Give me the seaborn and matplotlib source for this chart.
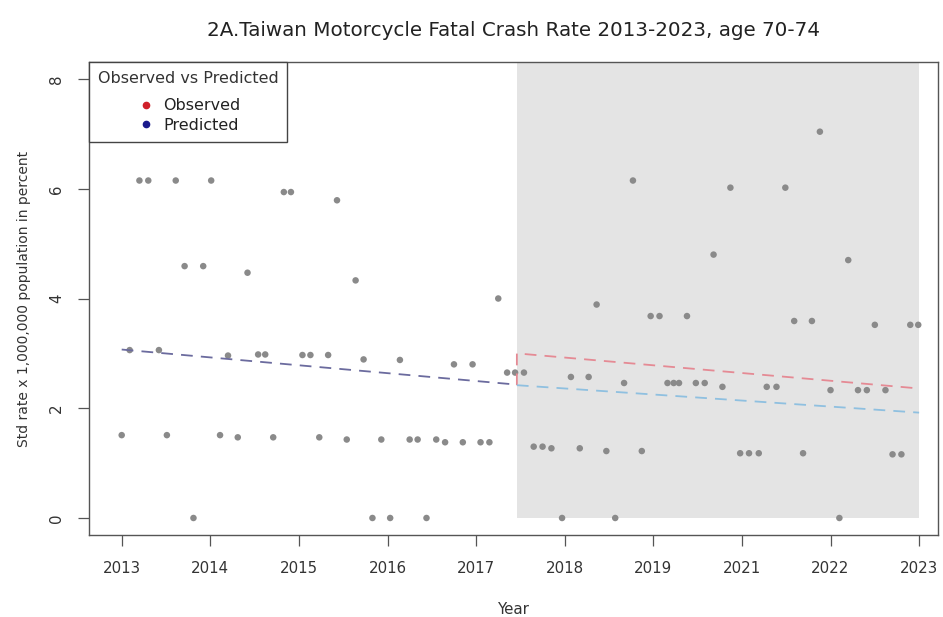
import matplotlib
matplotlib.use("Agg")
import matplotlib.pyplot as plt
from matplotlib.lines import Line2D
from matplotlib.patches import Rectangle
import pandas as pd
import seaborn as sns

# Axis ticks (the year labels run 2013-2019, then 2021-2023)
tick_pos = [2013, 2014, 2015, 2016, 2017, 2018, 2019, 2020, 2021, 2022]
tick_labels = ["2013", "2014", "2015", "2016", "2017", "2018", "2019",
               "2021", "2022", "2023"]
y_ticks = [0, 2, 4, 6, 8]

# Observed standardized rates (position on the time axis, rate)
rate_x = [2013.20, 2013.30, 2013.61, 2014.01, 2014.83, 2014.91, 2015.43,
          2013.71, 2013.92, 2014.42, 2015.64, 2017.25, 2018.77, 2018.36,
          2018.97, 2019.07, 2019.38, 2019.87, 2020.49, 2020.88, 2019.68,
          2021.20, 2020.59, 2020.79, 2021.50, 2021.90, 2021.99,
          2013.09, 2013.42, 2014.20, 2014.54, 2014.62, 2015.04, 2015.13,
          2015.33, 2015.73, 2016.14, 2016.75, 2016.96, 2017.35, 2017.44,
          2017.54,
          2018.07, 2018.27, 2018.67, 2019.16, 2019.23, 2019.29, 2019.48,
          2019.58, 2019.78, 2020.28, 2020.39, 2021.00, 2021.31, 2021.41,
          2021.62,
          2013.00, 2013.51, 2014.11, 2014.31, 2014.71, 2015.23, 2015.54,
          2015.93, 2016.25, 2016.34, 2016.55, 2016.65, 2016.85, 2017.05,
          2017.15, 2017.65, 2017.75, 2017.85, 2018.17, 2018.47, 2018.87,
          2019.98, 2020.08, 2020.19, 2020.69, 2021.70, 2021.80,
          2013.81, 2015.83, 2016.03, 2016.44, 2017.97, 2018.57, 2021.10]
rate_y = [6.15, 6.15, 6.15, 6.15, 5.94, 5.94, 5.79,
          4.59, 4.59, 4.47, 4.33, 4.00, 6.15, 3.89,
          3.68, 3.68, 3.68, 6.02, 6.02, 7.04, 4.80,
          4.70, 3.59, 3.59, 3.52, 3.52, 3.52,
          3.06, 3.06, 2.96, 2.98, 2.98, 2.97, 2.97,
          2.97, 2.89, 2.88, 2.80, 2.80, 2.65, 2.65,
          2.65,
          2.57, 2.57, 2.46, 2.46, 2.46, 2.46, 2.46,
          2.46, 2.39, 2.39, 2.39, 2.33, 2.33, 2.33,
          2.33,
          1.51, 1.51, 1.51, 1.47, 1.47, 1.47, 1.43,
          1.43, 1.43, 1.43, 1.43, 1.38, 1.38, 1.38,
          1.38, 1.30, 1.30, 1.27, 1.27, 1.22, 1.22,
          1.18, 1.18, 1.18, 1.18, 1.16, 1.16,
          0.00, 0.00, 0.00, 0.00, 0.00, 0.00, 0.00]

# Fitted trend before the break
fit_x = [2013.0, 2017.46]
fit_y = [3.07, 2.43]
# Trend of the observed rates after the break
obs_trend_x = [2017.46, 2017.46, 2022.0]
obs_trend_y = [2.42, 3.00, 2.36]
# Predicted (counterfactual) trend after the break
pred_trend_x = [2017.46, 2022.0]
pred_trend_y = [2.42, 1.92]
# Post-period window
period_start, period_end = 2017.46, 2022.0

sns.set_theme(style="white")
plt.rcParams["font.family"] = ["DejaVu Sans"]

points = pd.DataFrame({"year": rate_x, "rate": rate_y})
fit = pd.DataFrame({"year": fit_x, "rate": fit_y})
obs_trend = pd.DataFrame({"year": obs_trend_x, "rate": obs_trend_y})
pred_trend = pd.DataFrame({"year": pred_trend_x, "rate": pred_trend_y})

fig = plt.figure(figsize=(9.43, 6.17), dpi=100)
ax = fig.add_axes([89 / 943, 1 - 535 / 617, (938 - 89) / 943, (535 - 62) / 617])

ax.set_xlim(2012.631, 2022.213)
ax.set_ylim(-0.31, 8.31)

ax.add_patch(Rectangle((period_start, 0), period_end - period_start, 8.31,
                       facecolor="#e4e4e4", edgecolor="none", zorder=0))

sns.scatterplot(data=points, x="year", y="rate", ax=ax, s=22,
                color="#8a8a8a", edgecolor="none", zorder=3, legend=False)

dash = (0, (6.5, 4.5))
sns.lineplot(data=fit, x="year", y="rate", ax=ax, color="#6b6b9e",
             linewidth=1.3, linestyle=dash, sort=False, estimator=None, zorder=4)
sns.lineplot(data=obs_trend, x="year", y="rate", ax=ax, color="#e58a94",
             linewidth=1.3, linestyle=dash, sort=False, estimator=None, zorder=4)
sns.lineplot(data=pred_trend, x="year", y="rate", ax=ax, color="#8fc0e0",
             linewidth=1.3, linestyle=dash, sort=False, estimator=None, zorder=4)

ax.set_xticks(tick_pos)
ax.set_xticklabels(tick_labels)
ax.set_yticks(y_ticks)
ax.set_yticklabels([str(v) for v in y_ticks], rotation=90, va="center")
ax.tick_params(axis="x", length=8, width=0.9, color="#555555", pad=10.5,
               labelsize=10.8, labelcolor="#333333", bottom=True)
ax.tick_params(axis="y", length=8, width=0.9, color="#555555", pad=10,
               labelsize=10.8, labelcolor="#333333", left=True)

for sp in ax.spines.values():
    sp.set_color("#555555")
    sp.set_linewidth(1.0)

ax.set_xlabel("Year", fontsize=10.8, color="#333333", labelpad=19)
ax.set_ylabel("Std rate x 1,000,000 population in percent", fontsize=10,
              color="#333333", labelpad=13)
ax.set_title("2A.Taiwan Motorcycle Fatal Crash Rate 2013-2023, age 70-74",
             fontsize=14.3, color="#222222", pad=18.5)

handles = [
    Line2D([], [], marker="o", linestyle="", color="#d0202a", markersize=4.5),
    Line2D([], [], marker="o", linestyle="", color="#1a1a8c", markersize=4.5),
]
leg = ax.legend(handles, ["Observed", "Predicted"], title="Observed vs Predicted",
                loc="upper left", bbox_to_anchor=(0, 1), borderaxespad=0,
                fontsize=11.5, title_fontsize=11.5, frameon=True, fancybox=False,
                framealpha=1, edgecolor="#444444", handletextpad=0.5,
                borderpad=0.55, labelspacing=0.3, handlelength=1.2)
leg.get_frame().set_linewidth(1.0)
leg._legend_box.sep = 9
for t in leg.get_texts():
    t.set_color("#222222")
leg.get_title().set_color("#333333")

fig.savefig("out.png", dpi=100)
